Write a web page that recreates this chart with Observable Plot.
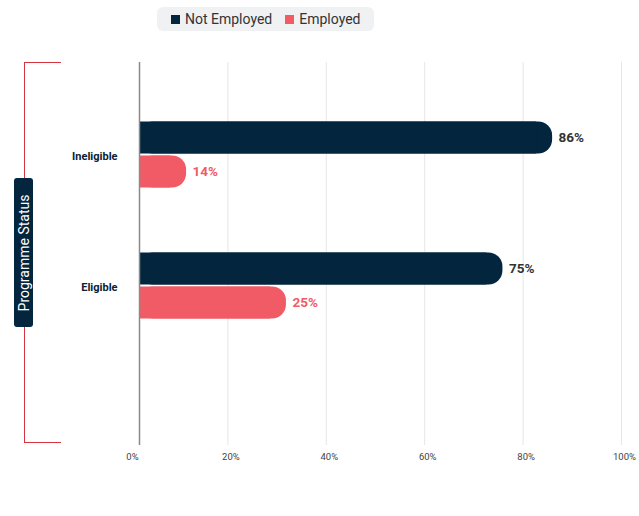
<!DOCTYPE html>
<html>
<head>
<meta charset="utf-8">
<script src="https://cdn.jsdelivr.net/npm/d3@7"></script>
<script src="https://cdn.jsdelivr.net/npm/@observablehq/plot@0.6"></script>
<style>
  html, body { margin: 0; padding: 0; background: #fff; }
  #wrap { position: relative; width: 639px; height: 516px; font-family: Roboto, "Noto Sans", sans-serif; }
  #chart { position: absolute; left: 0; top: 0; }
  #legend { position: absolute; left: 157px; top: 7px; width: 217px; height: 24px; background: #f0f1f3; border-radius: 6px;
            display: flex; align-items: center; font-size: 14px; color: #333; }
  .sw { display: inline-block; width: 9px; height: 9px; margin-left: 14px; margin-right: 5px; }
  #bracket { position: absolute; left: 24px; top: 62px; width: 37px; height: 381px; border: 1.2px solid #d63340; border-right: none; box-sizing: border-box; }
  #ylab { position: absolute; left: 14px; top: 178px; width: 19px; height: 149px; background: #03253d; border-radius: 3px; }
  #ylab span { position: absolute; left: 50%; top: 50%; transform: translate(-50%, -50%) rotate(-90deg); white-space: nowrap; color: #fff; font-size: 14px; }
</style>
</head>
<body>
<div id="wrap">
  <div id="chart"></div>
  <div id="bracket"></div>
  <div id="ylab"><span>Programme Status</span></div>
  <div id="legend"></div>
</div>
<script>
const categories = ["Ineligible", "Eligible"];
const series = ["Not Employed", "Employed"];
const colors = ["#03253d", "#f15b66"];
const labelColors = ["#333333", "#f15b66"];
// labelled percentages
const notEmployed = [86, 75];
const employed = [14, 25];
// drawn bar lengths
const notEmployedBar = [86.0, 75.9];
const employedBar = [11.6, 31.9];
const xTicks = [0, 20, 40, 60, 80, 100];

const rows = [];
categories.forEach((c, i) => {
  rows.push({cat: c, s: series[0], label: notEmployed[i], len: notEmployedBar[i]});
  rows.push({cat: c, s: series[1], label: employed[i], len: employedBar[i]});
});
const dark = rows.filter(d => d.s === series[0]);
const pink = rows.filter(d => d.s === series[1]);

const plot = Plot.plot({
  width: 639,
  height: 516,
  marginLeft: 129,
  marginRight: 18,
  marginTop: 62,
  marginBottom: 71,
  style: {fontFamily: "Roboto, 'Noto Sans', sans-serif", background: "transparent"},
  x: {domain: [0, 100], ticks: xTicks, tickFormat: d => d + "%"},
  y: {type: "band", domain: categories, range: [89.5, 351.5], padding: 0},
  marks: [
    Plot.ruleX(xTicks.slice(1), {stroke: "#e6e6e6", strokeWidth: 1}),
    // rounded bars (start at the offset baseline)
    Plot.barX(dark, {x1: 0, x2: "len", y: "cat", fill: colors[0], insetLeft: 10, insetTop: 31.5, insetBottom: 67.5, rx: 14}),
    Plot.barX(dark, {x1: 0, x2: "len", y: "cat", fill: colors[0], insetLeft: 10, insetTop: 31.5, insetBottom: 67.5, insetRight: 16}),
    Plot.barX(pink, {x1: 0, x2: "len", y: "cat", fill: colors[1], insetLeft: 10, insetTop: 65.5, insetBottom: 33.5, rx: 14}),
    Plot.barX(pink, {x1: 0, x2: "len", y: "cat", fill: colors[1], insetLeft: 10, insetTop: 65.5, insetBottom: 33.5, insetRight: 16}),
    Plot.ruleX([0], {stroke: "#8a8a8a", strokeWidth: 1.5, dx: 10}),
    Plot.text(dark, {x: "len", y: "cat", text: d => d.label + "%", dx: 6, dy: -18, textAnchor: "start", fill: labelColors[0], fontWeight: "bold", fontSize: 13.5}),
    Plot.text(pink, {x: "len", y: "cat", text: d => d.label + "%", dx: 6, dy: 16, textAnchor: "start", fill: labelColors[1], fontWeight: "bold", fontSize: 13.5}),
    Plot.axisX({ticks: xTicks, tickFormat: d => d + "%", tickSize: 0, tickPadding: 8, dx: 3, fontSize: 9.5, fill: "#444", label: null}),
    Plot.axisY({tickSize: 0, tickPadding: 12, fontSize: 11, fontWeight: "bold", fill: "#0b2236", label: null})
  ]
});
document.getElementById("chart").appendChild(plot);

const legend = document.getElementById("legend");
series.forEach((s, i) => {
  const sw = document.createElement("span");
  sw.className = "sw";
  sw.style.background = colors[i];
  if (i > 0) sw.style.marginLeft = "13px";
  legend.appendChild(sw);
  const t = document.createElement("span");
  t.textContent = s;
  legend.appendChild(t);
});
</script>
</body>
</html>
